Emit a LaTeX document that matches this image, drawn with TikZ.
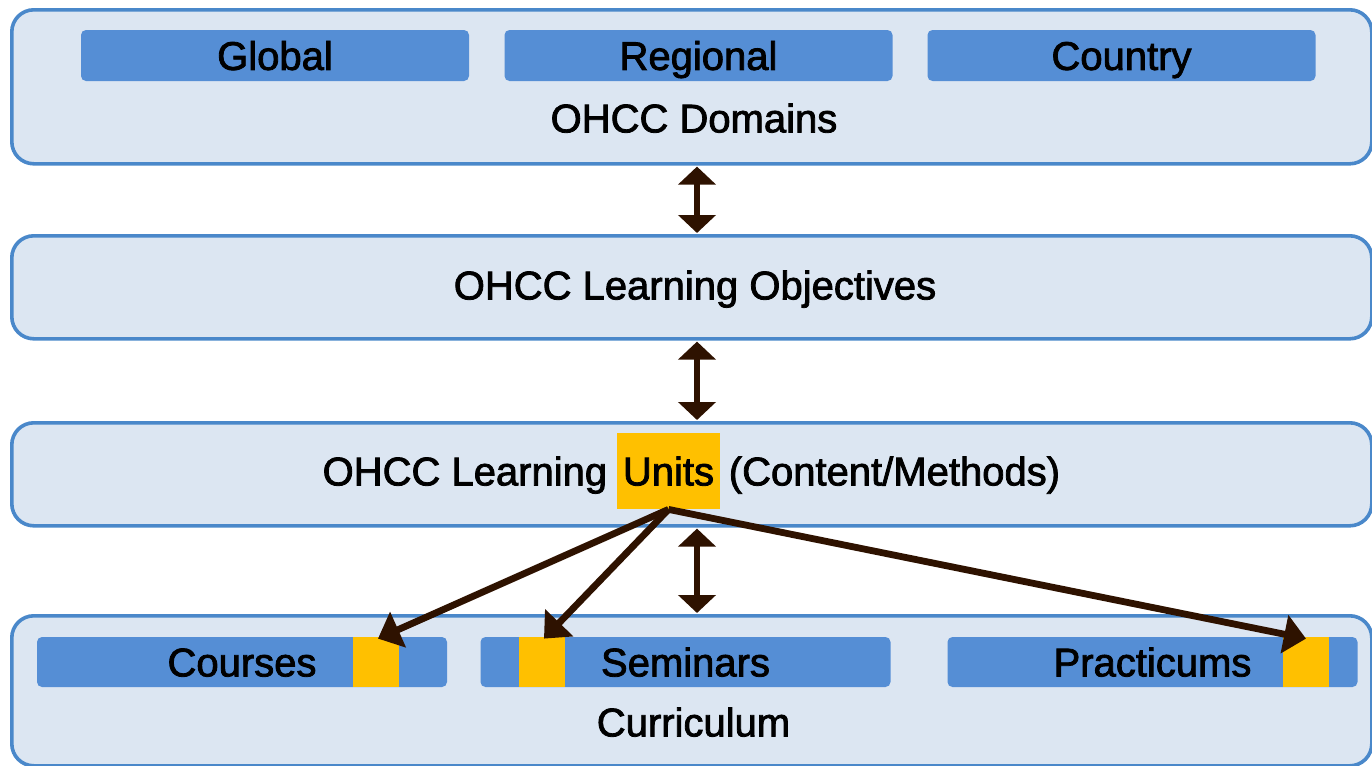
\documentclass[tikz,border=0pt]{standalone}
\usepackage{fontspec}
\setmainfont[FakeBold=2]{Liberation Sans}
\usetikzlibrary{arrows.meta,calc}
\definecolor{boxfill}{HTML}{DCE6F2}
\definecolor{boxline}{HTML}{4A88CA}
\definecolor{barfill}{HTML}{558ED5}
\definecolor{hl}{HTML}{FFC000}
\definecolor{arr}{HTML}{2E1200}
\begin{document}
\begin{tikzpicture}[x=0.5pt,y=-0.5pt,
  panel/.style={draw=boxline, line width=1.8pt, fill=boxfill, rounded corners=11pt,
    inner sep=0pt, anchor=north west, minimum width=680pt},
  txt/.style={inner sep=0pt, text height=14.4pt, text depth=0pt, font=\fontsize{20}{24}\selectfont},
  topbar/.style={txt, fill=barfill, rounded corners=2.5pt, minimum width=194pt, minimum height=25.5pt},
  botbar/.style={txt, fill=barfill, rounded corners=2.5pt, minimum width=205pt, minimum height=25pt},
  yel/.style={fill=hl, inner sep=0pt, minimum width=23pt, minimum height=25pt},
  dbl/.style={draw=arr, line width=3pt, {Triangle[length=9pt,width=18.5pt]}-{Triangle[length=9pt,width=18.5pt]}, shorten <=0.5pt, shorten >=0.5pt},
  one/.style={draw=arr, line width=3.4pt, -{Triangle[length=11pt,width=19pt]}}]
\useasboundingbox (0,0) rectangle (1372,766);
\clip (0,0) rectangle (1372,766);
% panels
\node[panel, minimum height=77pt] (dom) at (10,8) {};
\node[panel, minimum height=51.5pt] (lo) at (10,234) {};
\node[panel, minimum height=51.5pt] (lu) at (10,421) {};
\node[panel, minimum height=75pt] (cur) at (10,614) {};
% domain bars
\node[topbar] (global) at (275,55.5) {Global};
\node[topbar] (regional) at (698.5,55.5) {Regional};
\node[topbar] (country) at (1121.5,55.5) {Country};
\node[txt] (domlbl) at (694,118) {OHCC Domains};
% objectives
\node[txt] (lolbl) at (695,285) {OHCC Learning Objectives};
% units row
\node[txt, fill=hl, minimum width=51.5pt, minimum height=38pt] (units) at (668.5,471) {Units};
\node[txt, anchor=east] (luleft) at ($(units.west)+(-9,0)$) {OHCC Learning};
\node[txt, anchor=west] (luright) at ($(units.east)+(8,0)$) {(Content/Methods)};
% curriculum bars
\node[botbar] (courses) at (242,662) {Courses};
\node[botbar] (seminars) at (685.5,662) {Seminars};
\node[botbar] (practicums) at (1152.5,662) {Practicums};
\node[yel] (cy) at (376,662) {};
\node[yel] (sy) at (542,662) {};
\node[yel] (py) at (1306,662) {};
\node[txt] (curlbl) at (693.5,722) {Curriculum};
% arrows
\coordinate (ax) at (697,0);
\draw[dbl] (dom.south -| ax) -- (lo.north -| ax);
\draw[dbl] (lo.south -| ax) -- (lu.north -| ax);
\draw[dbl] (lu.south -| ax) -- (cur.north -| ax);
\draw[one] (units.south) -- ($(cy.north)+(2,2)$);
\draw[one] (units.south) -- ($(sy.north)+(2,2)$);
\draw[one] (units.south) -- ($(py.north)+(0,2)$);
\end{tikzpicture}
\end{document}
